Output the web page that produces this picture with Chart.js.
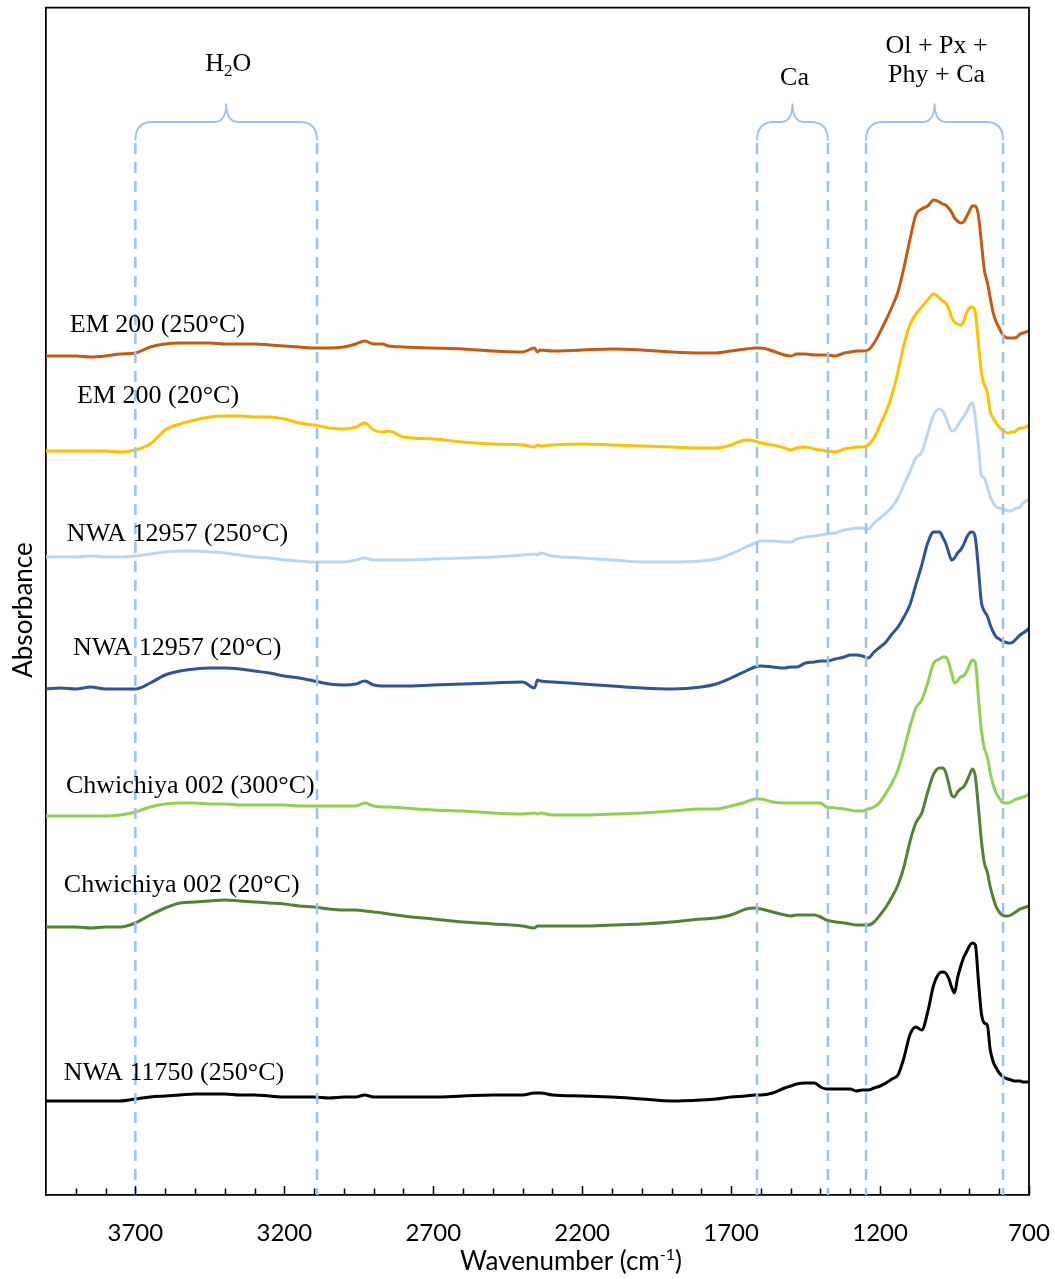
<!DOCTYPE html>
<html>
<head>
<meta charset="utf-8">
<title>FTIR spectra</title>
<script src="https://cdn.jsdelivr.net/npm/chart.js@4.4.1/dist/chart.umd.min.js"></script>
<style>
  html, body { margin: 0; padding: 0; background: #fff; }
  #wrap { width: 1055px; height: 1279px; position: relative; }
</style>
</head>
<body>
<div id="wrap"><canvas id="spectra"></canvas></div>
<script>
// wavenumber grid (cm-1), shared by every spectrum
const wavenumbers = [
  4000, 3950, 3900, 3850, 3800, 3750, 3700, 3650, 3600, 3550,
  3500, 3450, 3400, 3350, 3300, 3250, 3200, 3150, 3100, 3050,
  3000, 2960, 2930, 2900, 2870, 2850, 2800, 2700, 2600, 2500,
  2400, 2360, 2350, 2340, 2300, 2200, 2100, 2000, 1900, 1800,
  1750, 1700, 1650, 1620, 1600, 1560, 1520, 1500, 1480, 1450,
  1420, 1400, 1380, 1350, 1320, 1300, 1280,
  1260, 1240, 1220, 1200, 1180, 1160, 1140, 1120, 1100, 1080, 1060, 1040, 1020, 1000,
  990, 980, 970, 960, 950, 940, 930, 920, 910, 900,
  890, 880, 870, 860, 850, 840, 830, 820, 810, 800,
  790, 780, 770, 760, 750, 740, 730, 720, 710, 700
];

// absorbance (stacked, arbitrary offset)
const em200_250 = [
  0.839, 0.839, 0.839, 0.838, 0.839, 0.841, 0.842, 0.848, 0.851, 0.852,
  0.852, 0.852, 0.851, 0.851, 0.851, 0.850, 0.849, 0.848, 0.847, 0.847,
  0.848, 0.851, 0.854, 0.851, 0.851, 0.849, 0.848, 0.847, 0.846, 0.844,
  0.843, 0.847, 0.843, 0.845, 0.844, 0.845, 0.846, 0.845, 0.843, 0.842,
  0.842, 0.844, 0.846, 0.847, 0.847, 0.844, 0.840, 0.839, 0.841, 0.841,
  0.840, 0.840, 0.840, 0.839, 0.842, 0.843, 0.844,
  0.844, 0.845, 0.852, 0.863, 0.875, 0.888, 0.903, 0.927, 0.955, 0.980, 0.986, 0.989, 0.995, 0.993,
  0.991, 0.990, 0.987, 0.983, 0.977, 0.974, 0.972, 0.973, 0.978, 0.984,
  0.989, 0.989, 0.980, 0.953, 0.925, 0.913, 0.897, 0.882, 0.873, 0.867,
  0.861, 0.858, 0.857, 0.857, 0.857, 0.858, 0.861, 0.862, 0.863, 0.864
];
const em200_20 = [
  0.744, 0.744, 0.744, 0.744, 0.744, 0.743, 0.745, 0.751, 0.765, 0.771,
  0.775, 0.778, 0.779, 0.779, 0.778, 0.778, 0.776, 0.772, 0.770, 0.767,
  0.766, 0.768, 0.772, 0.765, 0.763, 0.764, 0.758, 0.756, 0.753, 0.751,
  0.750, 0.748, 0.750, 0.749, 0.750, 0.751, 0.750, 0.749, 0.748, 0.747,
  0.747, 0.750, 0.755, 0.754, 0.752, 0.750, 0.747, 0.745, 0.747, 0.748,
  0.746, 0.745, 0.744, 0.743, 0.746, 0.747, 0.748,
  0.748, 0.750, 0.757, 0.770, 0.783, 0.800, 0.823, 0.850, 0.870, 0.881, 0.888, 0.895, 0.901, 0.897,
  0.894, 0.892, 0.887, 0.878, 0.873, 0.871, 0.870, 0.873, 0.882, 0.887,
  0.888, 0.882, 0.853, 0.823, 0.810, 0.803, 0.783, 0.777, 0.772, 0.768,
  0.765, 0.763, 0.762, 0.763, 0.763, 0.765, 0.767, 0.767, 0.768, 0.770
];
const nwa12957_250 = [
  0.638, 0.638, 0.638, 0.639, 0.638, 0.638, 0.639, 0.641, 0.643, 0.644,
  0.644, 0.643, 0.642, 0.640, 0.638, 0.637, 0.635, 0.634, 0.633, 0.633,
  0.633, 0.635, 0.637, 0.635, 0.635, 0.635, 0.635, 0.636, 0.637, 0.638,
  0.640, 0.641, 0.640, 0.642, 0.639, 0.637, 0.635, 0.633, 0.633, 0.634,
  0.636, 0.641, 0.648, 0.652, 0.654, 0.654, 0.653, 0.653, 0.656, 0.658,
  0.659, 0.660, 0.661, 0.662, 0.665, 0.666, 0.667,
  0.667, 0.666, 0.672, 0.677, 0.682, 0.688, 0.697, 0.710, 0.723, 0.737, 0.743, 0.762, 0.780, 0.786,
  0.784, 0.778, 0.770, 0.764, 0.765, 0.769, 0.774, 0.778, 0.783, 0.789,
  0.792, 0.777, 0.750, 0.720, 0.717, 0.708, 0.698, 0.692, 0.688, 0.687,
  0.686, 0.685, 0.684, 0.684, 0.686, 0.687, 0.688, 0.692, 0.694, 0.695
];
const nwa12957_20 = [
  0.506, 0.507, 0.506, 0.508, 0.506, 0.506, 0.506, 0.512, 0.520, 0.524,
  0.526, 0.527, 0.527, 0.526, 0.524, 0.522, 0.519, 0.517, 0.514, 0.511,
  0.510, 0.511, 0.514, 0.510, 0.509, 0.509, 0.509, 0.510, 0.511, 0.512,
  0.513, 0.507, 0.515, 0.514, 0.513, 0.511, 0.509, 0.507, 0.506, 0.508,
  0.511, 0.517, 0.524, 0.528, 0.529, 0.528, 0.527, 0.528, 0.528, 0.532,
  0.533, 0.534, 0.534, 0.536, 0.538, 0.540, 0.540,
  0.539, 0.537, 0.543, 0.548, 0.553, 0.561, 0.568, 0.578, 0.590, 0.610, 0.630, 0.652, 0.663, 0.663,
  0.658, 0.652, 0.643, 0.635, 0.637, 0.642, 0.645, 0.650, 0.657, 0.662,
  0.663, 0.657, 0.627, 0.593, 0.584, 0.579, 0.570, 0.563, 0.558, 0.556,
  0.554, 0.553, 0.552, 0.552, 0.554, 0.557, 0.560, 0.562, 0.564, 0.567
];
const chwichiya_300 = [
  0.379, 0.379, 0.379, 0.379, 0.379, 0.380, 0.383, 0.388, 0.391, 0.392,
  0.392, 0.391, 0.391, 0.390, 0.390, 0.390, 0.390, 0.389, 0.389, 0.389,
  0.389, 0.389, 0.392, 0.389, 0.388, 0.388, 0.387, 0.385, 0.384, 0.382,
  0.381, 0.382, 0.381, 0.382, 0.380, 0.380, 0.381, 0.382, 0.384, 0.386,
  0.386, 0.389, 0.393, 0.396, 0.396, 0.393, 0.392, 0.392, 0.392, 0.392,
  0.392, 0.392, 0.388, 0.387, 0.386, 0.385, 0.384,
  0.384, 0.386, 0.388, 0.393, 0.402, 0.412, 0.425, 0.445, 0.468, 0.487, 0.495, 0.512, 0.532, 0.536,
  0.538, 0.538, 0.533, 0.522, 0.512, 0.514, 0.518, 0.519, 0.523, 0.530,
  0.535, 0.532, 0.498, 0.465, 0.447, 0.438, 0.422, 0.410, 0.402, 0.397,
  0.393, 0.392, 0.392, 0.393, 0.395, 0.396, 0.397, 0.398, 0.399, 0.401
];
const chwichiya_20 = [
  0.268, 0.268, 0.268, 0.267, 0.268, 0.268, 0.272, 0.280, 0.287, 0.292,
  0.293, 0.294, 0.295, 0.294, 0.293, 0.292, 0.291, 0.289, 0.288, 0.286,
  0.285, 0.285, 0.284, 0.283, 0.282, 0.281, 0.279, 0.276, 0.273, 0.271,
  0.269, 0.267, 0.269, 0.269, 0.269, 0.269, 0.270, 0.271, 0.273, 0.276,
  0.277, 0.280, 0.286, 0.287, 0.286, 0.283, 0.280, 0.279, 0.280, 0.280,
  0.280, 0.278, 0.275, 0.273, 0.272, 0.271, 0.270,
  0.270, 0.270, 0.273, 0.280, 0.288, 0.298, 0.310, 0.328, 0.353, 0.372, 0.382, 0.403, 0.421, 0.427,
  0.427, 0.423, 0.412, 0.400, 0.398, 0.403, 0.406, 0.408, 0.413, 0.420,
  0.426, 0.418, 0.388, 0.355, 0.332, 0.323, 0.308, 0.297, 0.288, 0.283,
  0.280, 0.279, 0.279, 0.280, 0.282, 0.284, 0.286, 0.287, 0.288, 0.289
];
const nwa11750_250 = [
  0.094, 0.094, 0.094, 0.094, 0.094, 0.094, 0.096, 0.098, 0.099, 0.100,
  0.101, 0.101, 0.101, 0.100, 0.100, 0.099, 0.098, 0.098, 0.098, 0.097,
  0.098, 0.098, 0.100, 0.098, 0.098, 0.098, 0.098, 0.098, 0.099, 0.100,
  0.100, 0.102, 0.102, 0.102, 0.100, 0.099, 0.098, 0.096, 0.094, 0.095,
  0.096, 0.098, 0.099, 0.100, 0.100, 0.102, 0.107, 0.109, 0.111, 0.112,
  0.112, 0.108, 0.106, 0.106, 0.106, 0.106, 0.104,
  0.105, 0.105, 0.107, 0.109, 0.112, 0.116, 0.120, 0.137, 0.160, 0.168, 0.165, 0.183, 0.210, 0.222,
  0.223, 0.222, 0.217, 0.208, 0.202, 0.217, 0.228, 0.237, 0.243, 0.249,
  0.252, 0.250, 0.215, 0.182, 0.172, 0.170, 0.145, 0.133, 0.127, 0.122,
  0.119, 0.117, 0.116, 0.115, 0.114, 0.114, 0.114, 0.113, 0.113, 0.113
];

const seriesNames = [
  'EM 200 (250°C)', 'EM 200 (20°C)', 'NWA 12957 (250°C)', 'NWA 12957 (20°C)',
  'Chwichiya 002 (300°C)', 'Chwichiya 002 (20°C)', 'NWA 11750 (250°C)'
];
const seriesValues = [em200_250, em200_20, nwa12957_250, nwa12957_20, chwichiya_300, chwichiya_20, nwa11750_250];
const seriesColors = ['#C55A11', '#FFC000', '#BDD7EE', '#2F5597', '#92D050', '#548235', '#000000'];

const tickLabels = [3700, 3200, 2700, 2200, 1700, 1200, 700];

// absorption regions marked with dashed lines and braces
const bands = [
  { from: 3700, to: 3090, text: ['H2O'], base: [71] },
  { from: 1613, to: 1375, text: ['Ca'], base: [85] },
  { from: 1247, to: 787, text: ['Ol + Px +', 'Phy + Ca'], base: [53, 82] }
];

// where each spectrum name sits (wavenumber, absorbance of text baseline)
const labelAnchors = [[3920, 0.863], [3896, 0.792], [3930, 0.654], [3909, 0.540], [3933, 0.402], [3940, 0.303], [3940, 0.115]];

const bandColor = '#9DC3E6';
const serif = '"Liberation Serif", "Times New Roman", serif';

function drawBrace(ctx, x1, x2, barY, tipY, legY) {
  const cx = (x1 + x2) / 2;
  const r = 17;
  ctx.beginPath();
  ctx.moveTo(x1, legY);
  ctx.quadraticCurveTo(x1, barY, x1 + r, barY);
  ctx.lineTo(cx - 12, barY);
  ctx.quadraticCurveTo(cx, barY, cx, tipY);
  ctx.quadraticCurveTo(cx, barY, cx + 12, barY);
  ctx.lineTo(x2 - r, barY);
  ctx.quadraticCurveTo(x2, barY, x2, legY);
  ctx.stroke();
}

function drawBandText(ctx, str, cx, baseY) {
  ctx.font = '26px ' + serif;
  if (str === 'H2O') {
    const big = '26px ' + serif, small = '17px ' + serif;
    ctx.font = big; const wH = ctx.measureText('H').width, wO = ctx.measureText('O').width;
    ctx.font = small; const w2 = ctx.measureText('2').width;
    let x = cx - (wH + w2 + wO) / 2;
    ctx.textAlign = 'left';
    ctx.font = big; ctx.fillText('H', x, baseY); x += wH;
    ctx.font = small; ctx.fillText('2', x, baseY + 5); x += w2;
    ctx.font = big; ctx.fillText('O', x, baseY);
    return;
  }
  ctx.textAlign = 'center';
  ctx.fillText(str, cx, baseY);
}

const decorations = {
  id: 'decorations',
  afterDatasetsDraw(chart) {
    const { ctx, chartArea: a, scales: { x, y } } = chart;
    ctx.save();

    // dashed region limits
    ctx.strokeStyle = bandColor;
    ctx.lineWidth = 2.5;
    ctx.setLineDash([11, 8]);
    bands.forEach(b => {
      [b.from, b.to].forEach(w => {
        const px = x.getPixelForValue(w);
        ctx.beginPath();
        ctx.moveTo(px, a.top + 135.5);
        ctx.lineTo(px, a.bottom);
        ctx.stroke();
      });
    });

    // braces and region names
    ctx.setLineDash([]);
    ctx.lineWidth = 1.8;
    ctx.fillStyle = '#000';
    ctx.textBaseline = 'alphabetic';
    bands.forEach(b => {
      const x1 = x.getPixelForValue(b.from), x2 = x.getPixelForValue(b.to);
      drawBrace(ctx, x1, x2, a.top + 114.5, a.top + 96, a.top + 133);
      b.text.forEach((t, i) => drawBandText(ctx, t, (x1 + x2) / 2 + 2, b.base[i]));
    });

    // spectrum names
    ctx.font = '26px ' + serif;
    ctx.textAlign = 'left';
    seriesNames.forEach((name, i) => {
      const [w, v] = labelAnchors[i];
      ctx.fillText(name, x.getPixelForValue(w), y.getPixelForValue(v));
    });
    ctx.restore();
  },
  afterDraw(chart) {
    const { ctx, chartArea: a, scales: { x } } = chart;
    ctx.save();
    ctx.strokeStyle = '#000';
    ctx.lineWidth = 1.75;

    // frame top and right
    ctx.beginPath();
    ctx.moveTo(a.left, a.top);
    ctx.lineTo(a.right, a.top);
    ctx.lineTo(a.right, a.bottom);
    ctx.stroke();

    // inward tick marks, minor every 100 cm-1
    ctx.lineWidth = 1.5;
    for (let w = 3900; w >= 700; w -= 100) {
      const px = Math.round(x.getPixelForValue(w)) + 0.5;
      const len = tickLabels.includes(w) ? 9 : 6.5;
      ctx.beginPath();
      ctx.moveTo(px, a.bottom);
      ctx.lineTo(px, a.bottom - len);
      ctx.stroke();
    }

    // axis titles
    ctx.fillStyle = '#000';
    ctx.textBaseline = 'alphabetic';
    const main = '26px Lato', sup = '16px Lato';
    ctx.font = main;
    const w1 = ctx.measureText('Wavenumber (cm').width, w3 = ctx.measureText(')').width;
    ctx.font = sup;
    const w2 = ctx.measureText('-1').width;
    let tx = 571 - (w1 + w2 + w3) / 2;
    const ty = 1270;
    ctx.textAlign = 'left';
    ctx.font = main; ctx.fillText('Wavenumber (cm', tx, ty); tx += w1;
    ctx.font = sup; ctx.fillText('-1', tx, ty - 10); tx += w2;
    ctx.font = main; ctx.fillText(')', tx, ty);

    ctx.translate(32, 610);
    ctx.rotate(-Math.PI / 2);
    ctx.textAlign = 'center';
    ctx.font = '26px Lato';
    ctx.fillText('Absorbance', 0, 0);
    ctx.restore();
  }
};

const datasets = seriesValues.map((vals, i) => ({
  label: seriesNames[i],
  data: wavenumbers.map((w, j) => ({ x: w, y: vals[j] })),
  borderColor: seriesColors[i],
  borderWidth: 3,
  pointRadius: 0,
  cubicInterpolationMode: 'monotone',
  borderJoinStyle: 'round',
  borderCapStyle: 'round'
}));

new Chart(document.getElementById('spectra'), {
  type: 'line',
  data: { datasets },
  options: {
    responsive: true,
    maintainAspectRatio: false,
    animation: false,
    events: [],
    layout: { padding: { left: 0, top: 7.5, right: 26, bottom: 0 } },
    plugins: { legend: { display: false }, tooltip: { enabled: false } },
    scales: {
      x: {
        type: 'linear',
        reverse: true,
        min: 700,
        max: 4000,
        afterBuildTicks: s => { s.ticks = tickLabels.map(v => ({ value: v })); },
        afterFit: s => { s.height = 84; s.paddingLeft = 0; s.paddingRight = 0; },
        grid: { display: false, drawTicks: false },
        border: { display: true, color: '#000', width: 1.75 },
        ticks: {
          color: '#000',
          font: { family: 'Lato', size: 24 },
          padding: 24,
          maxRotation: 0,
          autoSkip: false,
          callback: v => String(v)
        }
      },
      y: {
        min: 0,
        max: 1.1875,
        afterFit: s => { s.width = 46; s.paddingTop = 0; s.paddingBottom = 0; },
        grid: { display: false, drawTicks: false },
        border: { display: true, color: '#000', width: 1.75 },
        ticks: { display: false }
      }
    }
  },
  plugins: [decorations]
});
</script>
</body>
</html>
